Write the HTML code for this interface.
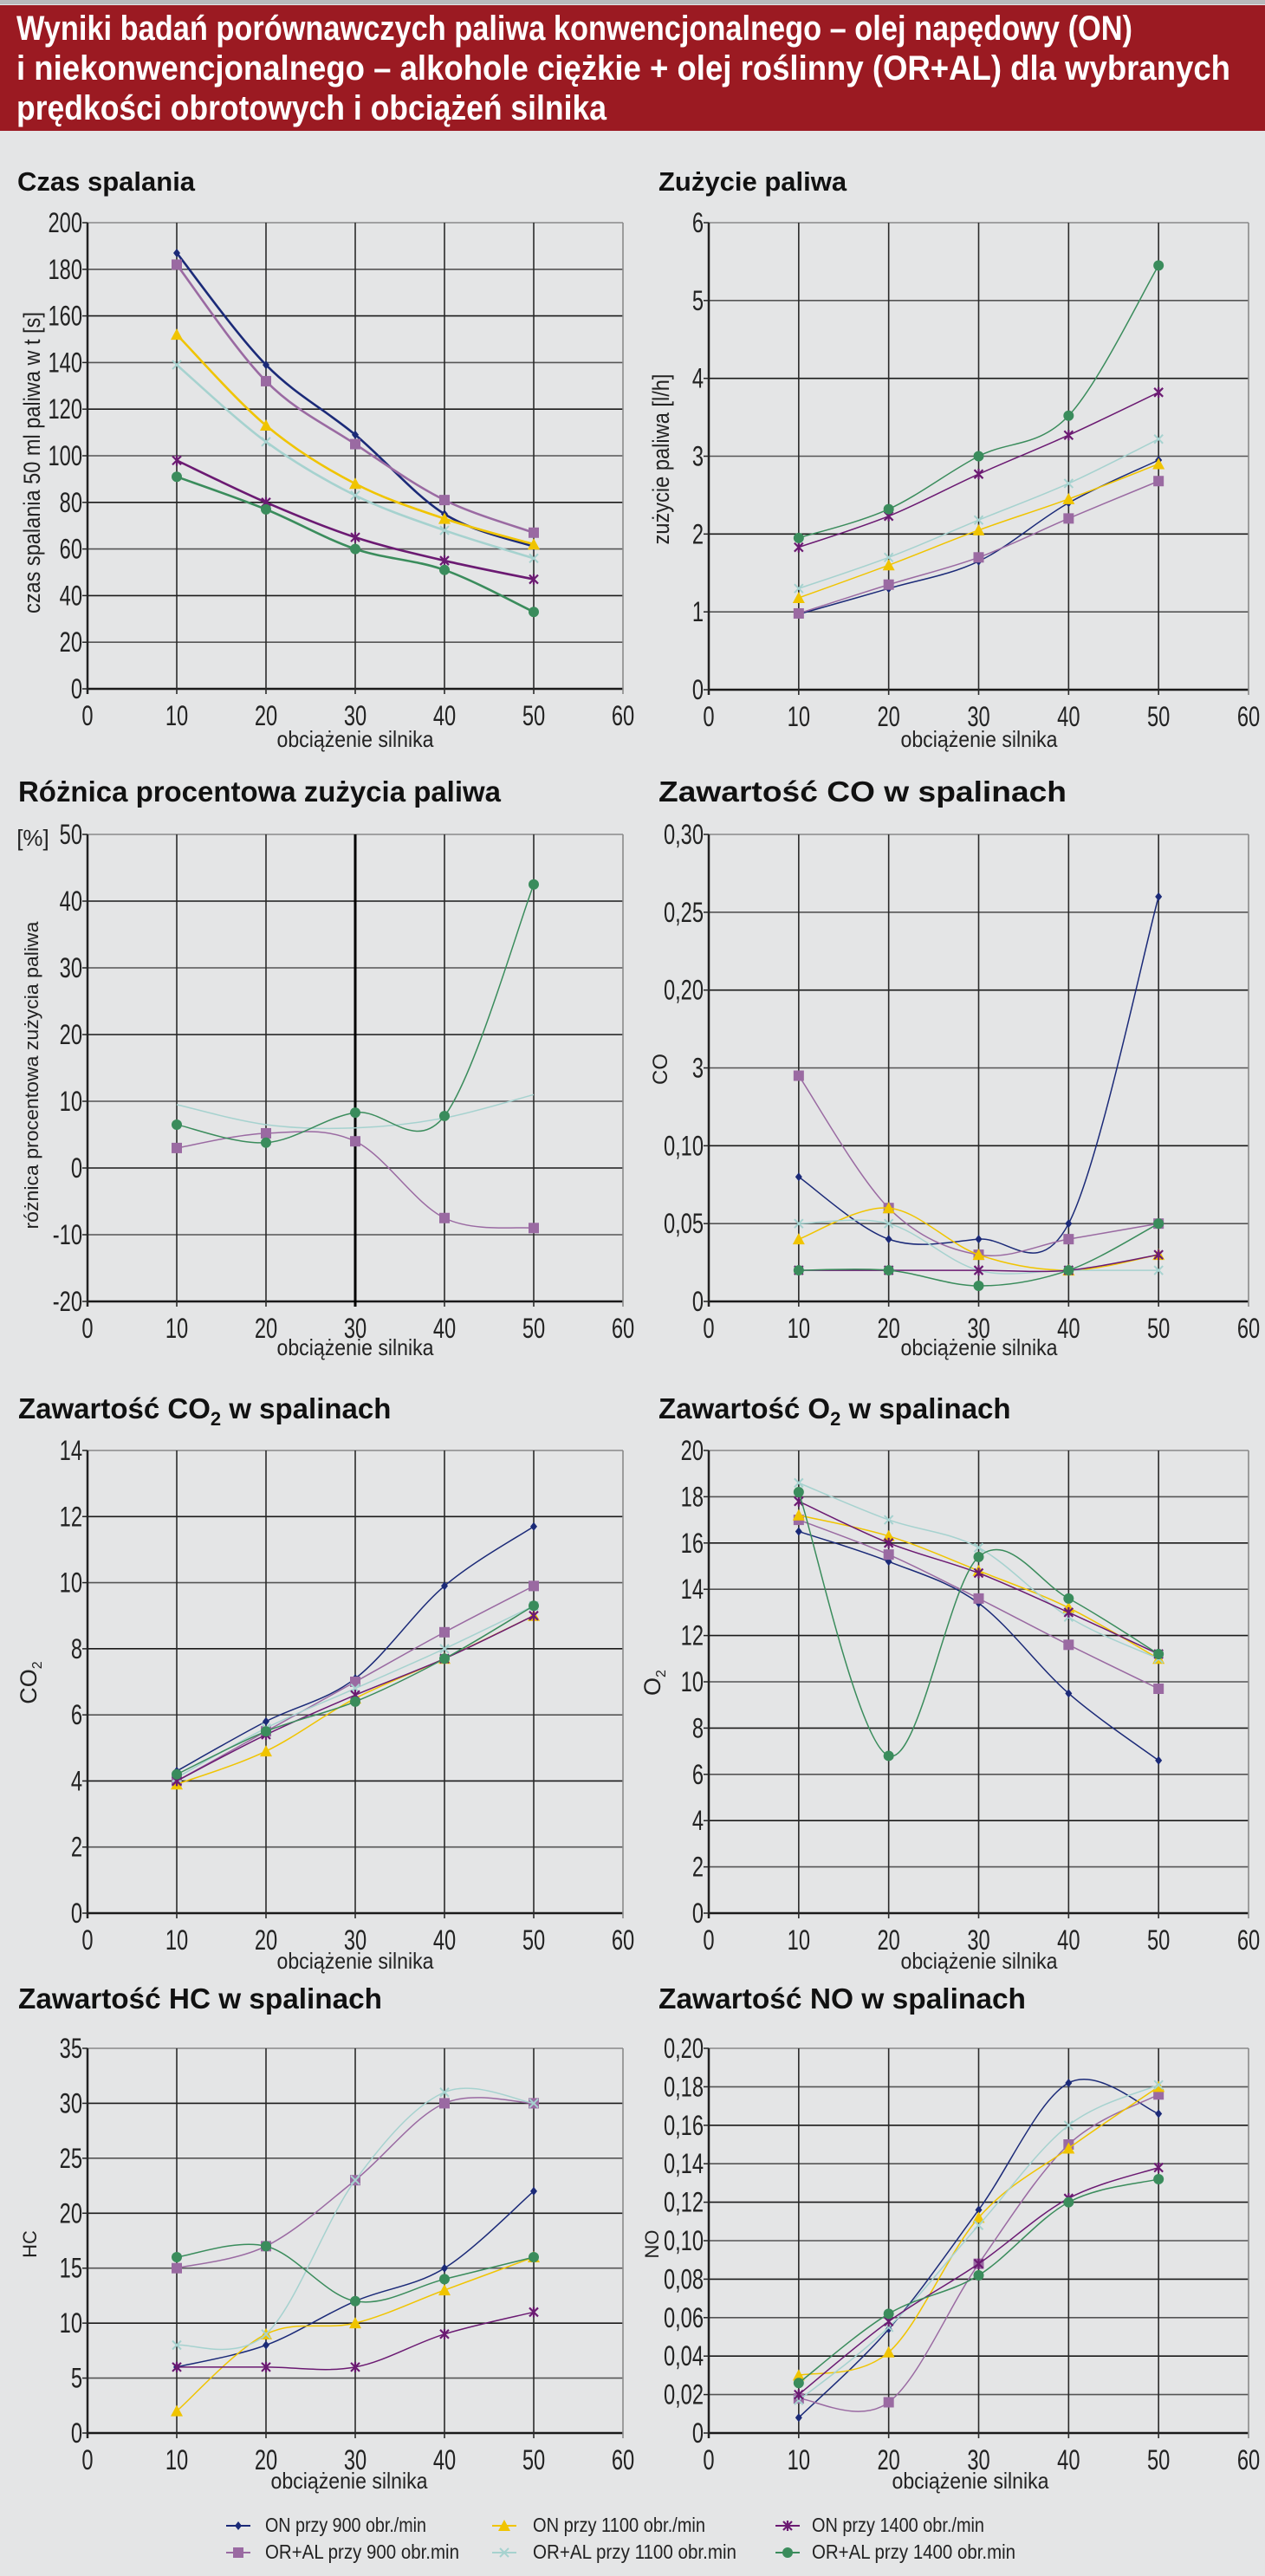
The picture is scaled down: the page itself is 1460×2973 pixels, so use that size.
<!DOCTYPE html>
<html><head><meta charset="utf-8">
<style>
html,body{margin:0;padding:0;background:#e4e5e6;}
svg{display:block;}
</style></head>
<body>
<svg id="s" width="1460" height="2973" viewBox="0 0 1460 2973" xmlns="http://www.w3.org/2000/svg" font-family="'Liberation Sans Narrow','Liberation Sans',sans-serif">
<rect width="1460" height="2973" fill="#e4e5e6"/>
<rect x="0" y="0" width="1460" height="5" fill="#b9babc"/>
<rect x="0" y="6" width="1460" height="145" fill="#9b1a22"/>
<g fill="#fff" font-weight="bold" font-size="40">
<text x="19" y="46" textLength="1288" lengthAdjust="spacingAndGlyphs">Wyniki badań porównawczych paliwa konwencjonalnego – olej napędowy (ON)</text>
<text x="19" y="92" textLength="1401" lengthAdjust="spacingAndGlyphs">i niekonwencjonalnego – alkohole ciężkie + olej roślinny (OR+AL) dla wybranych</text>
<text x="19" y="138" textLength="681" lengthAdjust="spacingAndGlyphs">prędkości obrotowych i obciążeń silnika</text>
</g>
<g font-weight="bold" font-size="33" fill="#111">
<text x="20" y="220" font-family="'Liberation Sans',sans-serif" font-size="31">Czas spalania</text>
<text x="760" y="220" font-family="'Liberation Sans',sans-serif" font-size="31">Zużycie paliwa</text>
<text x="21" y="925" textLength="557" lengthAdjust="spacingAndGlyphs">Różnica procentowa zużycia paliwa</text>
<text x="760" y="925" textLength="471" lengthAdjust="spacingAndGlyphs">Zawartość CO w spalinach</text>
<text x="21" y="1637">Zawartość CO<tspan font-size="22" dy="8">2</tspan><tspan dy="-8"> w spalinach</tspan></text>
<text x="760" y="1637">Zawartość O<tspan font-size="22" dy="8">2</tspan><tspan dy="-8"> w spalinach</tspan></text>
<text x="21" y="2318" textLength="420" lengthAdjust="spacingAndGlyphs">Zawartość HC w spalinach</text>
<text x="760" y="2318" textLength="424" lengthAdjust="spacingAndGlyphs">Zawartość NO w spalinach</text>
</g>
<g font-size="26" fill="#222" text-anchor="middle">
<text x="410" y="862" textLength="181" lengthAdjust="spacingAndGlyphs">obciążenie silnika</text>
<text x="1130" y="862" textLength="181" lengthAdjust="spacingAndGlyphs">obciążenie silnika</text>
<text x="410" y="1564" textLength="181" lengthAdjust="spacingAndGlyphs">obciążenie silnika</text>
<text x="1130" y="1564" textLength="181" lengthAdjust="spacingAndGlyphs">obciążenie silnika</text>
<text x="410" y="2272" textLength="181" lengthAdjust="spacingAndGlyphs">obciążenie silnika</text>
<text x="1130" y="2272" textLength="181" lengthAdjust="spacingAndGlyphs">obciążenie silnika</text>
<text x="403" y="2872" textLength="181" lengthAdjust="spacingAndGlyphs">obciążenie silnika</text>
<text x="1120" y="2872" textLength="181" lengthAdjust="spacingAndGlyphs">obciążenie silnika</text>
</g>
<g font-size="27" fill="#222" text-anchor="middle">
<text transform="translate(46,534) rotate(-90)" textLength="348" lengthAdjust="spacingAndGlyphs">czas spalania 50 ml paliwa w t [s]</text>
<text transform="translate(772,530) rotate(-90)" textLength="197" lengthAdjust="spacingAndGlyphs">zużycie paliwa [l/h]</text>
<text transform="translate(44,1241) rotate(-90)" font-family="'Liberation Sans',sans-serif" font-size="22" textLength="355" lengthAdjust="spacingAndGlyphs">różnica procentowa zużycia paliwa</text>
<text x="38" y="976" font-size="26">[%]</text>
<text transform="translate(770,1234) rotate(-90)" font-family="'Liberation Sans',sans-serif" font-size="24">CO</text>
<text transform="translate(42,1942) rotate(-90)">CO<tspan font-size="16" dy="6">2</tspan></text>
<text transform="translate(762,1942) rotate(-90)">O<tspan font-size="16" dy="6">2</tspan></text>
<text transform="translate(42,2590) rotate(-90)" font-family="'Liberation Sans',sans-serif" font-size="22">HC</text>
<text transform="translate(760,2590) rotate(-90)" font-family="'Liberation Sans',sans-serif" font-size="22">NO</text>
</g>
<g id="plots"></g>
<g font-size="23" fill="#222">
<text x="306" y="2922" textLength="186" lengthAdjust="spacingAndGlyphs">ON przy 900 obr./min</text>
<text x="615" y="2922" textLength="199" lengthAdjust="spacingAndGlyphs">ON przy 1100 obr./min</text>
<text x="937" y="2922" textLength="199" lengthAdjust="spacingAndGlyphs">ON przy 1400 obr./min</text>
<text x="306" y="2953" textLength="224" lengthAdjust="spacingAndGlyphs">OR+AL przy 900 obr.min</text>
<text x="615" y="2953" textLength="235" lengthAdjust="spacingAndGlyphs">OR+AL przy 1100 obr.min</text>
<text x="937" y="2953" textLength="235" lengthAdjust="spacingAndGlyphs">OR+AL przy 1400 obr.min</text>
</g>
</svg>
<script>
var NS="http://www.w3.org/2000/svg";
var G=document.getElementById("plots");
function el(t,a,p){var e=document.createElementNS(NS,t);for(var k in a)e.setAttribute(k,a[k]);(p||G).appendChild(e);return e;}
var C=["#1b2a78","#9a6aa2","#f0c400","#a6d2cf","#6b1a72","#3a8c5c"];
var M=["diamond","square","tri","x","star","circle"];
function marker(m,x,y,c,s){s=s||1;
 if(m=="diamond")el("path",{d:"M"+x+","+(y-5*s)+"L"+(x+4*s)+","+y+"L"+x+","+(y+5*s)+"L"+(x-4*s)+","+y+"Z",fill:c});
 else if(m=="square")el("rect",{x:x-6*s,y:y-6*s,width:12*s,height:12*s,fill:c});
 else if(m=="tri")el("path",{d:"M"+x+","+(y-7*s)+"L"+(x+7*s)+","+(y+6*s)+"L"+(x-7*s)+","+(y+6*s)+"Z",fill:c});
 else if(m=="x")el("path",{d:"M"+(x-5*s)+","+(y-5*s)+"L"+(x+5*s)+","+(y+5*s)+"M"+(x+5*s)+","+(y-5*s)+"L"+(x-5*s)+","+(y+5*s),stroke:c,"stroke-width":2});
 else if(m=="star")el("path",{d:"M"+(x-5*s)+","+(y-5*s)+"L"+(x+5*s)+","+(y+5*s)+"M"+(x+5*s)+","+(y-5*s)+"L"+(x-5*s)+","+(y+5*s)+"M"+x+","+(y-6*s)+"L"+x+","+(y+6*s),stroke:c,"stroke-width":2.2});
 else el("circle",{cx:x,cy:y,r:6*s,fill:c});
}
function smooth(p){var d="M"+p[0][0]+","+p[0][1];for(var i=0;i<p.length-1;i++){var a=p[i-1]||p[i],b=p[i],c=p[i+1],e=p[i+2]||c;
 d+="C"+(b[0]+(c[0]-a[0])/6)+","+(b[1]+(c[1]-a[1])/6)+" "+(c[0]-(e[0]-b[0])/6)+","+(c[1]-(e[1]-b[1])/6)+" "+c[0]+","+c[1];}return d;}
function txt(x,y,s,anchor){var t=el("text",{transform:"translate("+x+","+y+") scale(0.74,1)",x:0,y:0,"text-anchor":anchor,"font-size":32,fill:"#222"});t.textContent=s;}
function plot(o){
 var X=function(v){return o.x0+(o.x1-o.x0)*v/60;},Y=function(v){return o.y1-(o.y1-o.y0)*(v-o.min)/(o.max-o.min);};
 var n=Math.round((o.max-o.min)/o.step);
 for(var i=0;i<=n;i++){var v=o.min+i*o.step,y=Y(v);
  el("line",{x1:o.x0,x2:o.x1,y1:y,y2:y,stroke:i==n?"#8a8a8a":(i%2?"#555":"#1a1a1a"),"stroke-width":i==0?2.5:1.6});
  el("line",{x1:o.x0-6,x2:o.x0,y1:y,y2:y,stroke:"#222","stroke-width":1.5});
  txt(o.x0-6,y+11,o.lab?o.lab[i]:String(v),"end");}
 for(var j=0;j<=6;j++){var x=X(j*10);
  el("line",{x1:x,x2:x,y1:o.y0,y2:o.y1+6,stroke:j==6?"#8a8a8a":(j==0?"#222":(o.thick==j?"#000":"#2a2a2a")),"stroke-width":j==0?2.5:(o.thick==j?3:1.6)});
  txt(x,o.y1+42,String(j*10),"middle");}
 o.s.forEach(function(d,k){if(!d)return;var pts=d.map(function(v,i){return[X(10+10*i),Y(v)];});
  el("path",{d:smooth(pts),fill:"none",stroke:C[k],"stroke-width":o.lw||1.5});
  if(!(o.nomark&&o.nomark.indexOf(k)>=0))pts.forEach(function(p){marker(M[k],p[0],p[1],C[k]);});});
}
var L=[101,719],R=[818,1441];
plot({x0:L[0],x1:L[1],y0:257,y1:795,min:0,max:200,step:20,lw:2.6,s:[
[187,139,109,75,61],[182,132,105,81,67],[152,113,88,73,62],[139,106,83,68,56],[98,80,65,55,47],[91,77,60,51,33]]});
plot({x0:R[0],x1:R[1],y0:257,y1:796,min:0,max:6,step:1,s:[
[0.97,1.3,1.65,2.4,2.95],[0.98,1.35,1.7,2.2,2.68],[1.18,1.6,2.05,2.45,2.9],[1.3,1.7,2.18,2.65,3.22],[1.83,2.23,2.77,3.27,3.82],[1.95,2.32,3.0,3.52,5.45]]});
plot({x0:L[0],x1:L[1],y0:963,y1:1502,min:-20,max:50,step:10,thick:3,nomark:[3],s:[
null,[3,5.2,4,-7.5,-9],null,[9.5,6.5,6,7.5,11],null,[6.5,3.8,8.3,7.8,42.5]]});
plot({x0:R[0],x1:R[1],y0:963,y1:1502,min:0,max:0.30,step:0.05,lab:["0","0,05","0,10","3","0,20","0,25","0,30"],s:[
[0.08,0.04,0.04,0.05,0.26],[0.145,0.06,0.03,0.04,0.05],[0.04,0.06,0.03,0.02,0.03],[0.05,0.05,0.02,0.02,0.02],[0.02,0.02,0.02,0.02,0.03],[0.02,0.02,0.01,0.02,0.05]]});
plot({x0:L[0],x1:L[1],y0:1674,y1:2208,min:0,max:14,step:2,s:[
[4.3,5.8,7.1,9.9,11.7],[4.0,5.5,7.0,8.5,9.9],[3.9,4.9,6.5,7.7,9.0],[4.1,5.6,6.8,8.0,9.3],[4.0,5.4,6.6,7.7,9.0],[4.2,5.5,6.4,7.7,9.3]]});
plot({x0:R[0],x1:R[1],y0:1674,y1:2208,min:0,max:20,step:2,s:[
[16.5,15.2,13.4,9.5,6.6],[17.0,15.5,13.6,11.6,9.7],[17.2,16.3,14.8,13.2,11.0],[18.6,17.0,15.8,12.8,11.0],[17.8,16.0,14.7,13.0,11.2],[18.2,6.8,15.4,13.6,11.2]]});
plot({x0:L[0],x1:L[1],y0:2364,y1:2808,min:0,max:35,step:5,s:[
[6,8,12,15,22],[15,17,23,30,30],[2,9,10,13,16],[8,9,23,31,30],[6,6,6,9,11],[16,17,12,14,16]]});
plot({x0:R[0],x1:R[1],y0:2364,y1:2808,min:0,max:0.20,step:0.02,lab:["0","0,02","0,04","0,06","0,08","0,10","0,12","0,14","0,16","0,18","0,20"],s:[
[0.008,0.054,0.116,0.182,0.166],[0.018,0.016,0.088,0.150,0.176],[0.030,0.042,0.112,0.148,0.180],[0.017,0.055,0.108,0.160,0.181],[0.020,0.058,0.088,0.122,0.138],[0.026,0.062,0.082,0.120,0.132]]});
var lx=[275,582,909];
for(var k=0;k<6;k++){var x=lx[k>>1],y=k%2?2946:2915;el("line",{x1:x-14,x2:x+14,y1:y,y2:y,stroke:C[k],"stroke-width":2});marker(M[k],x,y,C[k]);}
</script>
</body></html>
